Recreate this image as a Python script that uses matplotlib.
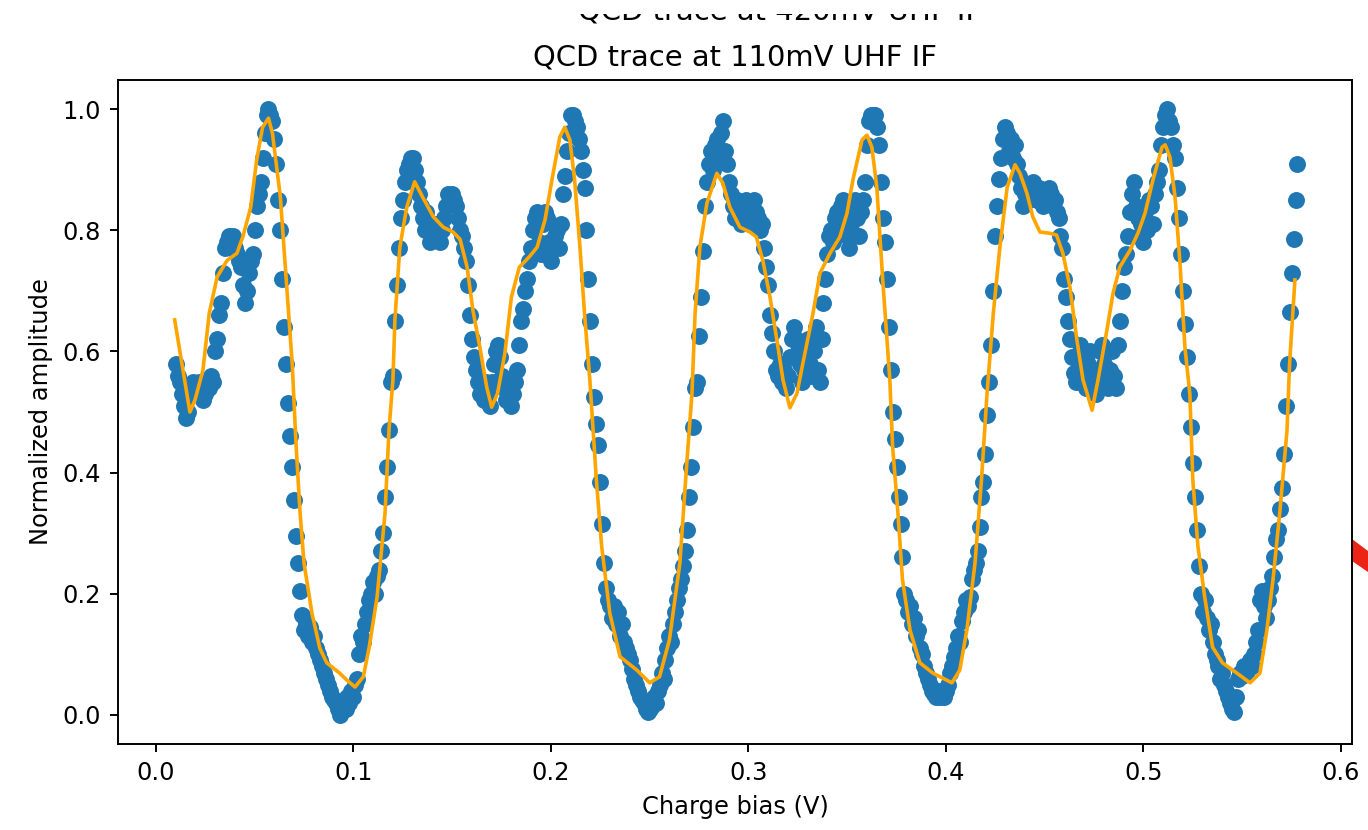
import numpy as np
import matplotlib.pyplot as plt
from matplotlib.patches import Polygon, Rectangle

# Charge bias sweep (V) and measured normalized amplitude
bias = np.linspace(0.010, 0.578, 569)
amplitude = [
    0.58, 0.56, 0.55, 0.53, 0.51, 0.49, 0.50, 0.53, 0.54, 0.55,
    0.54, 0.53, 0.55, 0.54, 0.52, 0.53, 0.55, 0.54, 0.56, 0.55,
    0.60, 0.62, 0.66, 0.68, 0.73, 0.77, 0.78, 0.79, 0.78, 0.79,
    0.77, 0.76, 0.75, 0.74, 0.71, 0.68, 0.70, 0.73, 0.75, 0.76,
    0.80, 0.84, 0.86, 0.88, 0.92, 0.96, 0.99, 1.00, 0.99, 0.98,
    0.95, 0.91, 0.85, 0.80, 0.72, 0.64, 0.58, 0.515, 0.46, 0.41,
    0.355, 0.295, 0.25, 0.205, 0.165, 0.14, 0.15, 0.13, 0.145, 0.12,
    0.13, 0.11, 0.10, 0.09, 0.08, 0.07, 0.06, 0.05, 0.04, 0.03,
    0.025, 0.02, 0.01, 0.0, 0.01, 0.02, 0.01, 0.03, 0.02, 0.04,
    0.03, 0.05, 0.06, 0.10, 0.13, 0.12, 0.15, 0.17, 0.19, 0.20,
    0.22, 0.20, 0.23, 0.24, 0.27, 0.30, 0.36, 0.41, 0.47, 0.55,
    0.56, 0.65, 0.71, 0.77, 0.82, 0.85, 0.88, 0.90, 0.91, 0.92,
    0.92, 0.90, 0.88, 0.86, 0.84, 0.82, 0.80, 0.83, 0.81, 0.78,
    0.80, 0.79, 0.81, 0.80, 0.78, 0.80, 0.82, 0.84, 0.86, 0.85,
    0.86, 0.85, 0.84, 0.82, 0.80, 0.79, 0.77, 0.75, 0.71, 0.66,
    0.62, 0.59, 0.57, 0.55, 0.53, 0.54, 0.52, 0.55, 0.53, 0.51,
    0.55, 0.58, 0.60, 0.61, 0.59, 0.56, 0.54, 0.52, 0.55, 0.53,
    0.51, 0.53, 0.55, 0.57, 0.61, 0.65, 0.67, 0.70, 0.72, 0.75,
    0.77, 0.80, 0.82, 0.83, 0.78, 0.76, 0.81, 0.83, 0.82, 0.78,
    0.75, 0.77, 0.79, 0.80, 0.77, 0.81, 0.86, 0.89, 0.93, 0.96,
    0.99, 0.99, 0.98, 0.97, 0.95, 0.93, 0.90, 0.87, 0.80, 0.72,
    0.65, 0.58, 0.525, 0.48, 0.445, 0.385, 0.315, 0.25, 0.21, 0.19,
    0.18, 0.16, 0.18, 0.15, 0.17, 0.13, 0.15, 0.12, 0.11, 0.10,
    0.09, 0.075, 0.06, 0.05, 0.04, 0.03, 0.025, 0.02, 0.01, 0.005,
    0.01, 0.015, 0.03, 0.02, 0.04, 0.05, 0.07, 0.06, 0.09, 0.11,
    0.13, 0.12, 0.15, 0.17, 0.19, 0.21, 0.225, 0.245, 0.27, 0.305,
    0.36, 0.41, 0.475, 0.54, 0.55, 0.625, 0.69, 0.765, 0.84, 0.88,
    0.91, 0.93, 0.90, 0.94, 0.95, 0.92, 0.96, 0.98, 0.93, 0.91,
    0.88, 0.86, 0.84, 0.82, 0.85, 0.83, 0.81, 0.84, 0.82, 0.85,
    0.83, 0.81, 0.84, 0.85, 0.83, 0.82, 0.80, 0.81, 0.77, 0.74,
    0.71, 0.66, 0.63, 0.60, 0.57, 0.56, 0.58, 0.55, 0.57, 0.54,
    0.56, 0.59, 0.62, 0.64, 0.62, 0.60, 0.58, 0.55, 0.57, 0.60,
    0.62, 0.58, 0.56, 0.60, 0.64, 0.57, 0.55, 0.62, 0.68, 0.72,
    0.76, 0.79, 0.80, 0.78, 0.82, 0.83, 0.80, 0.84, 0.85, 0.82,
    0.79, 0.77, 0.81, 0.84, 0.85, 0.82, 0.79, 0.83, 0.85, 0.88,
    0.94, 0.98, 0.99, 0.99, 0.99, 0.97, 0.94, 0.88, 0.82, 0.78,
    0.72, 0.64, 0.57, 0.50, 0.455, 0.41, 0.36, 0.315, 0.26, 0.20,
    0.19, 0.17, 0.18, 0.15, 0.16, 0.13, 0.14, 0.11, 0.10, 0.08,
    0.07, 0.06, 0.05, 0.04, 0.035, 0.03, 0.04, 0.03, 0.035, 0.03,
    0.04, 0.05, 0.07, 0.08, 0.095, 0.11, 0.13, 0.12, 0.155, 0.17,
    0.19, 0.18, 0.195, 0.225, 0.24, 0.25, 0.27, 0.31, 0.36, 0.385,
    0.43, 0.495, 0.55, 0.61, 0.70, 0.79, 0.84, 0.885, 0.92, 0.95,
    0.97, 0.96, 0.93, 0.95, 0.92, 0.94, 0.91, 0.89, 0.87, 0.84,
    0.86, 0.87, 0.85, 0.86, 0.88, 0.86, 0.85, 0.87, 0.86, 0.84,
    0.86, 0.85, 0.87, 0.86, 0.84, 0.85, 0.83, 0.82, 0.79, 0.77,
    0.72, 0.69, 0.65, 0.62, 0.59, 0.565, 0.55, 0.57, 0.61, 0.59,
    0.555, 0.54, 0.58, 0.60, 0.57, 0.55, 0.53, 0.56, 0.60, 0.61,
    0.58, 0.55, 0.54, 0.57, 0.60, 0.56, 0.54, 0.61, 0.65, 0.70,
    0.74, 0.76, 0.79, 0.83, 0.86, 0.88, 0.84, 0.82, 0.79, 0.81,
    0.78, 0.83, 0.80, 0.85, 0.84, 0.81, 0.86, 0.88, 0.90, 0.94,
    0.97, 0.99, 1.00, 0.98, 0.97, 0.94, 0.92, 0.87, 0.82, 0.76,
    0.70, 0.645, 0.59, 0.53, 0.475, 0.415, 0.36, 0.305, 0.245, 0.20,
    0.17, 0.19, 0.16, 0.14, 0.15, 0.12, 0.10, 0.09, 0.08, 0.06,
    0.07, 0.05, 0.04, 0.03, 0.02, 0.01, 0.005, 0.03, 0.06, 0.07,
    0.065, 0.08, 0.07, 0.075, 0.09, 0.08, 0.10, 0.12, 0.14, 0.19,
    0.205, 0.18, 0.16, 0.19, 0.21, 0.23, 0.26, 0.29, 0.305, 0.34,
    0.375, 0.43, 0.51, 0.58, 0.665, 0.73, 0.785, 0.85, 0.91,
]

# Smoothed fit (orange curve)
fit_bias = [
    0.0095, 0.0172, 0.0198, 0.0238, 0.027, 0.031, 0.036, 0.041, 0.044, 0.048,
    0.051, 0.054, 0.057, 0.059, 0.063, 0.066, 0.069, 0.071, 0.073, 0.075,
    0.079, 0.083, 0.0865, 0.093, 0.0965, 0.1008, 0.105, 0.108, 0.112, 0.116,
    0.118, 0.120, 0.121, 0.1235, 0.127, 0.131, 0.135, 0.1405, 0.1455, 0.1505,
    0.154, 0.1575, 0.1605, 0.164, 0.1675, 0.170, 0.173, 0.1767, 0.180, 0.184,
    0.189, 0.193, 0.197, 0.2005, 0.2045, 0.207, 0.2096, 0.212, 0.2147, 0.217,
    0.2197, 0.223, 0.2257, 0.2298, 0.235, 0.2435, 0.250, 0.255, 0.260, 0.2653,
    0.2688, 0.2714, 0.273, 0.2754, 0.279, 0.284, 0.287, 0.2906, 0.2957, 0.3008,
    0.304, 0.3073, 0.3109, 0.3144, 0.3175, 0.321, 0.3246, 0.3276, 0.3327, 0.3362,
    0.3413, 0.3463, 0.3499, 0.3529, 0.3575, 0.360, 0.3625, 0.365, 0.368, 0.3716,
    0.373, 0.3757, 0.378, 0.3818, 0.3868, 0.3934, 0.403, 0.407, 0.4106, 0.4147,
    0.418, 0.4208, 0.424, 0.4273, 0.431, 0.435, 0.4375, 0.441, 0.444, 0.4476,
    0.4527, 0.456, 0.4592, 0.4628, 0.4663, 0.4694, 0.474, 0.477, 0.4815, 0.4846,
    0.488, 0.4932, 0.4972, 0.5008, 0.5048, 0.5094, 0.511, 0.5134, 0.516, 0.5185,
    0.521, 0.5235, 0.525, 0.5276, 0.531, 0.535, 0.540, 0.5473, 0.554, 0.559,
    0.5625, 0.5656, 0.569, 0.5727, 0.574, 0.5767,
]
fit_amplitude = [
    0.652, 0.500, 0.520, 0.569, 0.663, 0.723, 0.750, 0.762, 0.789, 0.838,
    0.916, 0.970, 0.985, 0.960, 0.855, 0.718, 0.580, 0.443, 0.333, 0.250,
    0.168, 0.110, 0.086, 0.069, 0.058, 0.046, 0.063, 0.112, 0.195, 0.333,
    0.470, 0.553, 0.652, 0.772, 0.838, 0.880, 0.855, 0.822, 0.805, 0.797,
    0.785, 0.740, 0.668, 0.607, 0.541, 0.508, 0.531, 0.597, 0.690, 0.739,
    0.756, 0.772, 0.817, 0.883, 0.954, 0.970, 0.949, 0.883, 0.772, 0.663,
    0.553, 0.388, 0.278, 0.168, 0.096, 0.074, 0.053, 0.063, 0.124, 0.251,
    0.416, 0.530, 0.663, 0.772, 0.845, 0.894, 0.878, 0.838, 0.805, 0.797,
    0.789, 0.750, 0.690, 0.619, 0.553, 0.507, 0.531, 0.581, 0.663, 0.729,
    0.762, 0.789, 0.828, 0.883, 0.949, 0.957, 0.937, 0.871, 0.718, 0.553,
    0.443, 0.333, 0.223, 0.140, 0.086, 0.069, 0.053, 0.074, 0.140, 0.250,
    0.388, 0.530, 0.663, 0.772, 0.871, 0.908, 0.894, 0.861, 0.822, 0.797,
    0.795, 0.792, 0.762, 0.706, 0.619, 0.553, 0.503, 0.553, 0.635, 0.696,
    0.739, 0.767, 0.795, 0.828, 0.883, 0.937, 0.941, 0.921, 0.855, 0.746,
    0.607, 0.530, 0.388, 0.278, 0.195, 0.112, 0.086, 0.069, 0.053, 0.069,
    0.140, 0.223, 0.333, 0.470, 0.580, 0.718,
]

W, H, DPI = 1368, 830, 174
fig = plt.figure(figsize=(W / DPI, H / DPI), dpi=DPI)
ax = fig.add_axes([118 / W, 1 - 744 / H, (1352 - 118) / W, (744 - 80) / H])

ax.scatter(bias, amplitude)
ax.plot(fit_bias, fit_amplitude, color='orange')
ax.set_xlim(-0.0192, 0.6056)
ax.set_ylim(-0.048, 1.048)
ax.set_xlabel('Charge bias (V)')
ax.set_ylabel('Normalized amplitude')
ax.set_title('QCD trace at 110mV UHF IF')

# title of the previous figure, cut off at the top of the screenshot
fig.text(779.5 / W, 1 - 19.5 / H, 'QCD trace at 420mV UHF IF', ha='center', va='baseline', fontsize=12)
fig.add_artist(Rectangle((0, 1 - 14 / H), 1, 14 / H, transform=fig.transFigure,
                         facecolor='white', edgecolor='none', zorder=10))

# red annotation arrow peeking in from the right edge
pts = [(1352, 539), (1368, 551), (1368, 572), (1352, 561)]
fig.add_artist(Polygon([(x / W, 1 - y / H) for x, y in pts], closed=True,
                       transform=fig.transFigure, facecolor='#ec2416', edgecolor='none', zorder=-1))

fig.savefig('out.png', dpi=DPI)
